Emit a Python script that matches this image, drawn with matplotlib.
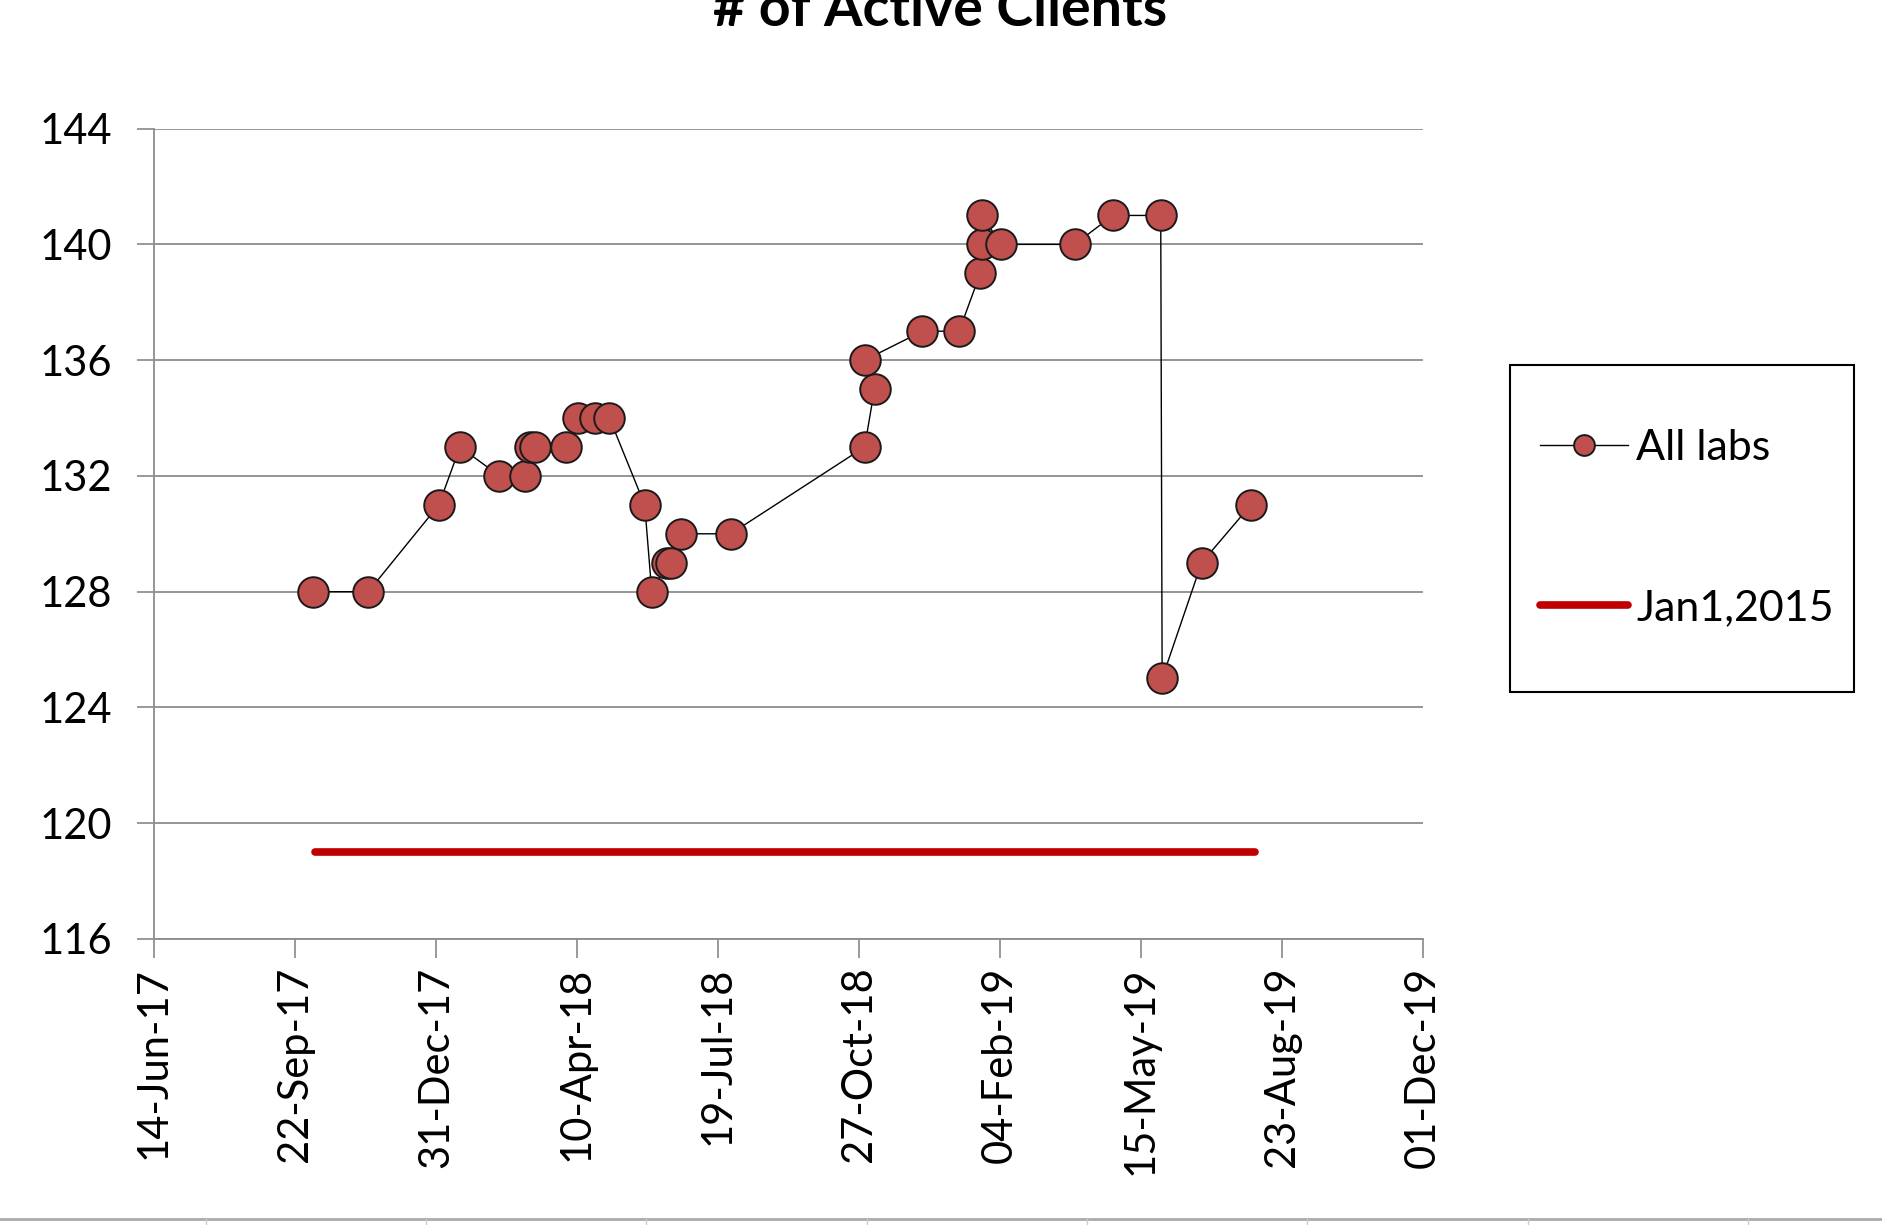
import matplotlib
matplotlib.use("Agg")
import matplotlib.pyplot as plt
import matplotlib.dates as mdates
from matplotlib.lines import Line2D
from matplotlib.patches import Rectangle
import numpy as np
import pandas as pd

plt.rcParams["font.family"] = ["Lato", "DejaVu Sans"]

# data
dates = pd.to_datetime([
    "2017-10-05", "2017-11-13", "2018-01-02", "2018-01-17", "2018-02-14",
    "2018-03-04", "2018-03-08", "2018-03-11", "2018-04-02", "2018-04-11",
    "2018-04-23", "2018-05-03", "2018-05-28", "2018-06-02", "2018-06-13",
    "2018-06-16", "2018-06-23", "2018-07-28", "2018-10-31", "2018-11-07",
    "2018-10-31", "2018-12-11", "2019-01-06", "2019-01-21", "2019-01-22",
    "2019-01-22", "2019-02-05", "2019-03-29", "2019-04-25", "2019-05-29",
    "2019-05-30", "2019-06-27", "2019-08-01",
])
clients = [
    128, 128, 131, 133, 132,
    132, 133, 133, 133, 134,
    134, 134, 131, 128, 129,
    129, 130, 130, 133, 135,
    136, 137, 137, 139, 140,
    141, 140, 140, 141, 141,
    125, 129, 131,
]
baseline_value = 119
baseline_dates = pd.to_datetime(["2017-10-06", "2019-08-04"])

x_start = pd.Timestamp("2017-06-14")
x_ticks = [x_start + pd.Timedelta(days=100 * i) for i in range(10)]
y_ticks = np.arange(116, 145, 4)

fig = plt.figure(figsize=(18.83, 12.25), dpi=100)
ax = fig.add_axes([0.0818, 0.2335, 0.6739, 0.6615])

ax.plot(dates, clients, color="black", linewidth=1.0, marker="o",
        markersize=22, markerfacecolor="#C0504D", markeredgecolor="#1a1a1a",
        markeredgewidth=1.4, label="All labs", zorder=3)
ax.plot(baseline_dates, [baseline_value] * 2, color="#C00000", linewidth=5.5,
        solid_capstyle="round", label="Jan1,2015", zorder=2)

ax.set_xlim(x_ticks[0], x_ticks[-1])
ax.set_ylim(116, 144)
ax.set_xticks(x_ticks)
ax.xaxis.set_major_formatter(mdates.DateFormatter("%d-%b-%y"))
ax.set_yticks(y_ticks)
ax.tick_params(axis="x", labelrotation=90, labelsize=30, length=14,
               color="#888888", width=1.2, pad=6)
ax.tick_params(axis="y", labelsize=30, length=12, color="#888888",
               width=1.2, pad=18)
ax.grid(axis="y", color="#8c8c8c", linewidth=1.3)
ax.set_axisbelow(True)
for side in ("top", "right"):
    ax.spines[side].set_visible(False)
for side in ("left", "bottom"):
    ax.spines[side].set_color("#8c8c8c")
    ax.spines[side].set_linewidth(1.3)

fig.text(0.499, 1 - 26 / 1225, "# of Active Clients", ha="center",
         va="baseline", fontsize=40, fontweight="bold")

# legend frame drawn separately so the padding can differ per side
fig.add_artist(Rectangle((0.8017, 0.4351), 0.1830, 0.2669, fill=False,
                         edgecolor="black", linewidth=1.5,
                         transform=fig.transFigure))
leg = ax.legend(loc="center left", bbox_to_anchor=(0.8176, 0.569),
                bbox_transform=fig.transFigure, fontsize=31, frameon=False,
                labelspacing=2.85, borderpad=0, borderaxespad=0,
                handlelength=2.05, handletextpad=0.2, markerscale=0.68)

# spreadsheet border at the bottom of the picture
y_line = 1 - 1219 / 1225
fig.add_artist(Line2D([0, 1], [y_line, y_line], color="#aaaaaa",
                      linewidth=2, transform=fig.transFigure))
for xc in [206, 426, 646, 867, 1087, 1307, 1528, 1748]:
    fig.add_artist(Line2D([xc / 1883] * 2, [0, y_line], color="#cccccc",
                          linewidth=1, transform=fig.transFigure))

fig.savefig("out.png", dpi=100)
